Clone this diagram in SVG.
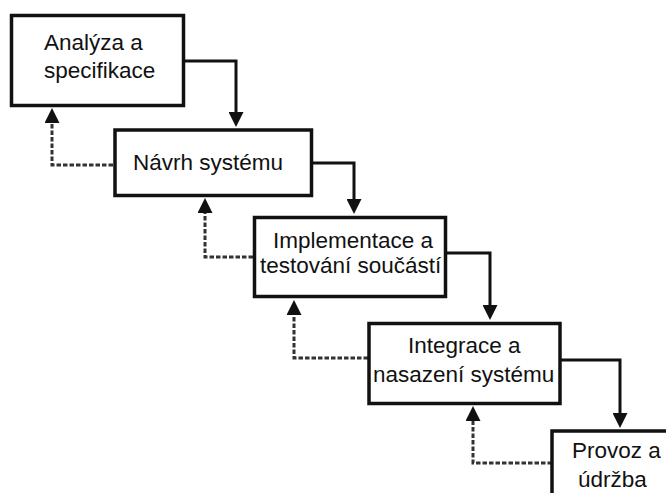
<svg xmlns="http://www.w3.org/2000/svg" width="666" height="493" viewBox="0 0 666 493">
<defs>
<style>
.box{fill:#fff;stroke:#111;stroke-width:3.5}
.lbl{font-family:"Liberation Sans",Arial,sans-serif;font-size:22.5px;fill:#111}
.flow{fill:none;stroke:#111;stroke-width:3}
.back{fill:none;stroke:#333;stroke-width:3;stroke-dasharray:4.5 2}
</style>
<marker id="ah" markerUnits="userSpaceOnUse" markerWidth="15" markerHeight="15" refX="0" refY="7.5" orient="auto">
<path d="M0,0 L15,7.5 L0,15 z" fill="#111"/>
</marker>
</defs>
<rect width="666" height="493" fill="#fff"/>
<g id="connectors">
<path class="flow" d="M185,61 H236 V112" marker-end="url(#ah)"/>
<path class="flow" d="M311,163 H354 V199" marker-end="url(#ah)"/>
<path class="flow" d="M446,253 H490 V305" marker-end="url(#ah)"/>
<path class="flow" d="M560,360 H620 V413" marker-end="url(#ah)"/>
<path class="back" d="M113,165 H52 V123" marker-end="url(#ah)"/>
<path class="back" d="M253,257 H205 V213" marker-end="url(#ah)"/>
<path class="back" d="M368,358 H294 V315" marker-end="url(#ah)"/>
<path class="back" d="M552,463 H473 V421" marker-end="url(#ah)"/>
</g>
<g id="n1">
<rect class="box" x="11.5" y="15.5" width="172" height="90"/>
<text class="lbl" x="44" y="50">Analýza a</text>
<text class="lbl" x="44" y="78">specifikace</text>
</g>
<g id="n2">
<rect class="box" x="115" y="130" width="196.5" height="65.5"/>
<text class="lbl" x="133" y="170">Návrh systému</text>
</g>
<g id="n3">
<rect class="box" x="254.5" y="217.5" width="191" height="79"/>
<text class="lbl" x="273" y="248">Implementace a</text>
<text class="lbl" x="260" y="273">testování součástí</text>
</g>
<g id="n4">
<rect class="box" x="369" y="323.5" width="191" height="80"/>
<text class="lbl" x="408" y="353">Integrace a</text>
<text class="lbl" x="373" y="382">nasazení systému</text>
</g>
<g id="n5">
<rect class="box" x="552" y="431" width="130" height="80"/>
<text class="lbl" x="572" y="458">Provoz a</text>
<text class="lbl" x="578" y="487">údržba</text>
</g>
</svg>
